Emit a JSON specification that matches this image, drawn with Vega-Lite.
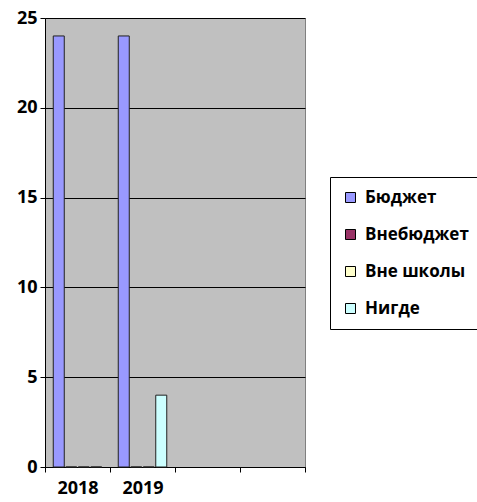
{
  "$schema": "https://vega.github.io/schema/vega-lite/v6.json",
  "width": 260,
  "height": 449,
  "autosize": "none",
  "padding": {"left": 45, "top": 18, "right": 172, "bottom": 35},
  "background": "#ffffff",
  "config": {
    "view": {"fill": "#c0c0c0", "stroke": "#808080", "strokeWidth": 1},
    "font": "Open Sans"
  },
  "data": {
    "values": [
      {"year": "2018", "cat": "Бюджет", "value": 24},
      {"year": "2018", "cat": "Внебюджет", "value": 0},
      {"year": "2018", "cat": "Вне школы", "value": 0},
      {"year": "2018", "cat": "Нигде", "value": 0},
      {"year": "2019", "cat": "Бюджет", "value": 24},
      {"year": "2019", "cat": "Внебюджет", "value": 0},
      {"year": "2019", "cat": "Вне школы", "value": 0},
      {"year": "2019", "cat": "Нигде", "value": 4}
    ]
  },
  "mark": {"type": "bar", "stroke": "#202020", "strokeWidth": 1},
  "encoding": {
    "x": {
      "field": "year",
      "type": "nominal",
      "scale": {"domain": ["2018", "2019", "c3", "c4"], "paddingInner": 0, "paddingOuter": 0},
      "axis": {
        "title": null,
        "labelAngle": 0,
        "labelExpr": "datum.value == '2018' || datum.value == '2019' ? datum.value : ''",
        "tickBand": "extent",
        "domainColor": "#000000",
        "tickColor": "#000000",
        "tickSize": 5,
        "labelFont": "Open Sans",
        "labelFontSize": 18,
        "labelFontWeight": "bold",
        "labelColor": "#000000",
        "labelPadding": 7,
        "grid": false
      }
    },
    "xOffset": {
      "field": "cat",
      "type": "nominal",
      "sort": ["Бюджет", "Внебюджет", "Вне школы", "Нигде"],
      "scale": {"paddingInner": 0.12, "paddingOuter": 0.66}
    },
    "y": {
      "field": "value",
      "type": "quantitative",
      "scale": {"domain": [0, 25], "nice": false},
      "axis": {
        "title": null,
        "values": [0, 5, 10, 15, 20, 25],
        "grid": true,
        "gridColor": "#000000",
        "gridOpacity": 1,
        "gridWidth": 1,
        "domainColor": "#000000",
        "tickColor": "#000000",
        "tickSize": 5,
        "labelFont": "Open Sans",
        "labelFontSize": 18,
        "labelFontWeight": "bold",
        "labelColor": "#000000",
        "labelPadding": 3
      }
    },
    "color": {
      "field": "cat",
      "type": "nominal",
      "sort": ["Бюджет", "Внебюджет", "Вне школы", "Нигде"],
      "scale": {
        "domain": ["Бюджет", "Внебюджет", "Вне школы", "Нигде"],
        "range": ["#9999ff", "#993366", "#ffffcc", "#ccffff"]
      },
      "legend": {
        "title": null,
        "orient": "none",
        "legendX": 285,
        "legendY": 159,
        "strokeColor": "#000000",
        "fillColor": "#ffffff",
        "padding": 12,
        "rowPadding": 19,
        "symbolType": "square",
        "symbolSize": 100,
        "symbolStrokeColor": "#000000",
        "symbolStrokeWidth": 1,
        "symbolOpacity": 1,
        "labelFont": "Open Sans",
        "labelFontSize": 17,
        "labelFontWeight": "bold",
        "labelColor": "#000000",
        "labelOffset": 6,
        "labelLimit": 200
      }
    }
  }
}
